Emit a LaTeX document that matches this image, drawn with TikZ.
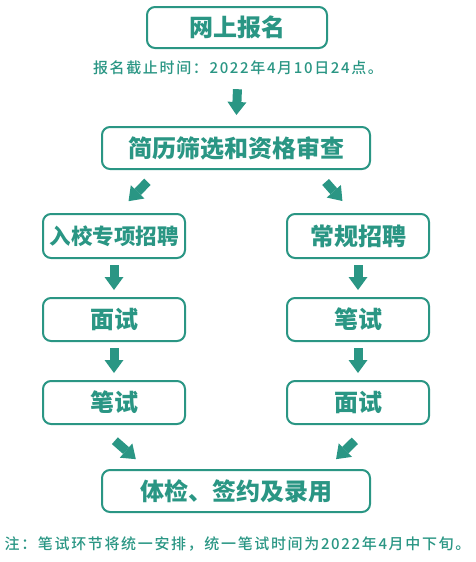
\documentclass[tikz,border=0pt]{standalone}
\usepackage{fontspec}
\usetikzlibrary{arrows.meta}
\newfontfamily\cjk{Noto Sans CJK SC Medium}[BoldFont={Noto Sans CJK SC Black}]
\newfontfamily\cjkspaced{Noto Sans CJK SC Medium}[LetterSpace=11]
\definecolor{zhteal}{HTML}{2A9684}
\tikzset{
  stagebox/.style={draw=zhteal, line width=2pt, rounded corners=8pt, fill=white,
    minimum width=142pt, minimum height=43pt, inner sep=0pt, text=zhteal,
    font=\cjk\bfseries\fontsize{24}{24}\selectfont},
  widebox/.style={stagebox, minimum width=268pt, minimum height=42pt},
  flowarr/.style={draw=zhteal, line width=9pt,
    -{Triangle[width=19pt,length=13pt,line width=0pt]}},
  remark/.style={text=zhteal, inner sep=0pt,
    font=\cjkspaced\fontsize{15}{15}\selectfont},
}
\begin{document}
\begin{tikzpicture}[x=1pt, y=-1pt] % {{{
\pgfmathsetmacro{\colstep}{244}
\useasboundingbox (0,0) rectangle (476,562);
% Top {{{
\node[stagebox, minimum width=180pt, minimum height=41pt] (signup) at (237,27.5) {网上报名};
\node[remark] (deadline) at (238,68) {报名截止时间：2022年4月10日24点。};
\node[widebox] (screen) at (236,148) {简历筛选和资格审查};
\draw[flowarr, shorten <=14pt, shorten >=11pt] (deadline.south) -- (screen.north);
% }}}
% Left column {{{
\node[stagebox, minimum height=44pt, font=\cjk\bfseries\fontsize{21.5}{22}\selectfont] (campus) at (114,236) {入校专项招聘};
\node[stagebox] (linterview) at (114,319.5) {面试};
\node[stagebox] (lwritten) at (114,402.5) {笔试};
\draw[flowarr, shorten <=6pt, shorten >=7pt] (campus.south) -- (linterview.north);
\draw[flowarr, shorten <=6pt, shorten >=7pt] (linterview.south) -- (lwritten.north);
% }}}
% Right column {{{
\node[stagebox, minimum height=44pt] (regular) at (114+\colstep,236) {常规招聘};
\node[stagebox] (rwritten) at (114+\colstep,319.5) {笔试};
\node[stagebox] (rinterview) at (114+\colstep,402.5) {面试};
\draw[flowarr, shorten <=6pt, shorten >=7pt] (regular.south) -- (rwritten.north);
\draw[flowarr, shorten <=6pt, shorten >=7pt] (rwritten.south) -- (rinterview.north);
% }}}
% Bottom {{{
\node[widebox] (hire) at (236,491) {体检、签约及录用};
\node[remark] (note) at (237.5,544) {注：笔试环节将统一安排，统一笔试时间为2022年4月中下旬。};
% }}}
% Diagonal arrows {{{
\draw[flowarr, shorten <=16.5pt, shorten >=16.5pt] ([xshift=58pt]screen.south west) -- ([xshift=3pt]campus.north);
\draw[flowarr, shorten <=16pt, shorten >=16pt] ([xshift=-56pt]screen.south east) -- ([xshift=-5pt]regular.north);
\draw[flowarr, shorten <=23.8pt, shorten >=14.9pt] ([xshift=-17pt]lwritten.south) -- ([xshift=46pt]hire.north west);
\draw[flowarr, shorten <=22.6pt, shorten >=14.1pt] ([xshift=13pt]rinterview.south) -- ([xshift=-45pt]hire.north east);
% }}}
\end{tikzpicture} % }}}
\end{document}
